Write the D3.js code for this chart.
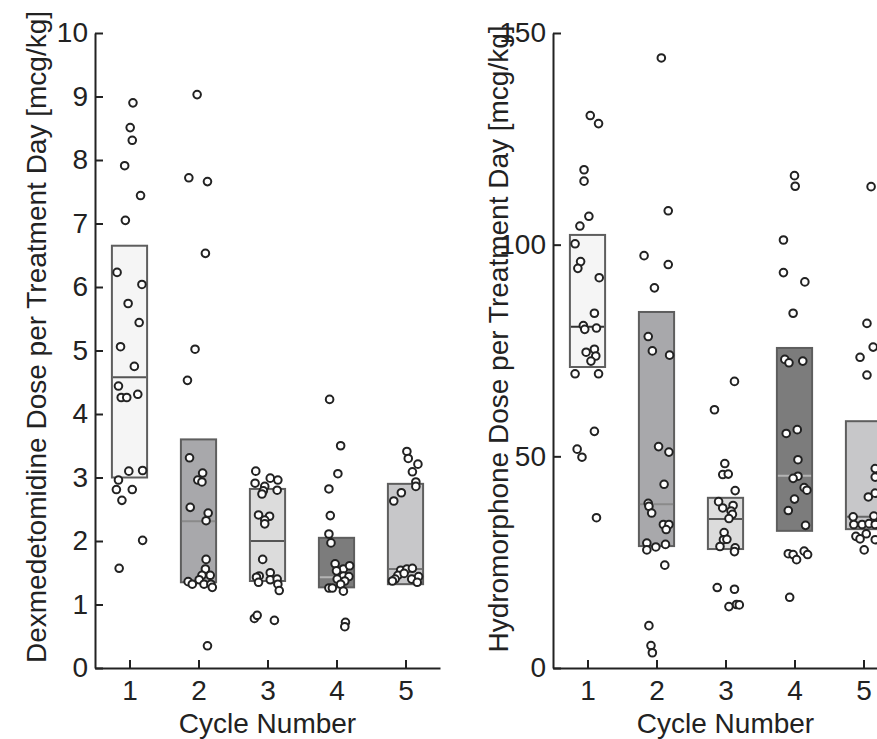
<!DOCTYPE html>
<html>
<head>
<meta charset="utf-8">
<script src="https://cdn.jsdelivr.net/npm/d3@7"></script>
<style>
  body { margin: 0; background: #fff; }
  svg { display: block; font-family: "Liberation Sans", Arial, Helvetica, sans-serif; }
  .axis text { font-size: 28px; fill: #222; }
  .axis path, .axis line { stroke: #222; stroke-width: 2; }
  .title { font-size: 28px; fill: #222; }
</style>
</head>
<body>
<div id="chart"></div>
<script>
// cycles and box colours
const cycles = [1, 2, 3, 4, 5];
const boxFill = ["#f5f5f5", "#a8a8ab", "#dcdcdc", "#7c7c7c", "#c7c7c9"];

// dexmedetomidine: box stats [q1, median, q3] per cycle
const dexBoxes = [[3.0, 4.58, 6.65], [1.35, 2.31, 3.6], [1.37, 2.0, 2.82], [1.27, 1.43, 2.05], [1.32, 1.56, 2.9]];
const dexMedianColor = ["#555", "#8a8a8a", "#555", "#b4b4b4", "#777"];
// dexmedetomidine: jittered points [x, dose]
const dexPoints = [
  [1.05, 8.90], [1.01, 8.51], [1.04, 8.31], [0.93, 7.91], [1.16, 7.44], [0.94, 7.05], [0.82, 6.23], [1.18, 6.04],
  [0.98, 5.74], [1.14, 5.44], [0.87, 5.06], [1.07, 4.75], [0.84, 4.44], [0.88, 4.26], [0.96, 4.26], [1.12, 4.31],
  [0.99, 3.10], [1.19, 3.11], [0.84, 2.96], [0.81, 2.81], [1.04, 2.81], [0.89, 2.64], [1.19, 2.01], [0.85, 1.57],
  [1.98, 9.03], [1.86, 7.72], [2.13, 7.66], [2.10, 6.53], [1.95, 5.02], [1.84, 4.53], [1.87, 3.31], [2.06, 3.07],
  [1.99, 2.96], [2.05, 2.93], [1.88, 2.53], [2.14, 2.44], [2.11, 2.32], [2.11, 1.71], [2.10, 1.56], [2.05, 1.46],
  [2.17, 1.46], [2.01, 1.39], [1.85, 1.36], [1.91, 1.32], [2.08, 1.32], [2.18, 1.32], [2.20, 1.27], [2.13, 0.35],
  [2.83, 3.10], [2.82, 2.91], [3.04, 2.99], [3.15, 2.96], [2.96, 2.86], [2.94, 2.79], [3.14, 2.80], [2.92, 2.74],
  [2.87, 2.41], [3.03, 2.39], [2.96, 2.33], [2.96, 2.27], [2.93, 1.71], [2.88, 1.45], [2.84, 1.43], [3.04, 1.50],
  [2.87, 1.35], [3.04, 1.39], [3.14, 1.40], [3.15, 1.32], [3.17, 1.22], [2.81, 0.78], [2.85, 0.83], [3.10, 0.75],
  [3.90, 4.23], [4.06, 3.50], [4.02, 3.06], [3.89, 2.82], [3.91, 2.40], [3.89, 2.11], [3.92, 1.97], [3.98, 1.64],
  [4.10, 1.56], [4.19, 1.61], [4.00, 1.53], [4.10, 1.45], [4.18, 1.44], [4.01, 1.40], [4.12, 1.37], [3.89, 1.26],
  [3.94, 1.26], [4.06, 1.32], [4.10, 1.21], [4.13, 0.72], [4.12, 0.65],
  [5.02, 3.41], [5.04, 3.30], [5.18, 3.21], [5.10, 3.09], [5.15, 2.93], [5.15, 2.86], [4.94, 2.76], [4.83, 2.63],
  [4.93, 1.54], [5.02, 1.56], [5.10, 1.57], [4.89, 1.46], [4.98, 1.49], [4.85, 1.40], [4.81, 1.37], [5.09, 1.40],
  [5.19, 1.44], [5.17, 1.35]
];
const dexTicks = [0, 1, 2, 3, 4, 5, 6, 7, 8, 9, 10];

// hydromorphone: box stats [q1, median, q3] per cycle
const hydBoxes = [[71.1, 80.6, 102.3], [28.8, 38.7, 84.1], [28.1, 35.2, 40.2], [32.4, 45.4, 75.6], [32.8, 35.7, 58.3]];
const hydMedianColor = ["#333", "#8a8a8a", "#555", "#b4b4b4", "#666"];
const hydPoints = [
  [1.04, 130.5], [1.16, 128.6], [0.95, 117.7], [0.95, 115.0], [1.02, 106.7], [0.89, 104.4], [0.82, 100.2], [0.90, 96.0],
  [0.86, 94.4], [1.17, 92.2], [1.10, 83.8], [0.94, 80.9], [0.96, 80.0], [1.13, 80.3], [0.98, 74.6], [1.10, 75.3],
  [1.12, 73.7], [1.05, 72.5], [0.82, 69.5], [1.16, 69.5], [1.10, 55.9], [0.85, 51.7], [0.92, 49.8], [1.13, 35.5],
  [2.07, 144.1], [2.17, 108.0], [1.82, 97.4], [2.17, 95.3], [1.97, 89.8], [1.88, 78.3], [1.94, 74.9], [2.19, 73.9],
  [2.03, 52.3], [2.18, 51.0], [2.11, 43.4], [1.88, 38.9], [1.89, 38.2], [1.93, 36.6], [2.10, 33.9], [2.18, 33.9],
  [2.14, 32.7], [1.86, 29.5], [1.86, 27.9], [1.99, 28.6], [2.13, 29.2], [2.12, 24.3], [1.89, 10.0], [1.92, 5.3], [1.94, 3.6],
  [3.13, 67.7], [2.84, 61.0], [2.99, 48.3], [2.96, 45.7], [3.04, 45.8], [3.14, 41.9], [2.90, 39.3], [3.11, 38.4],
  [3.08, 37.1], [3.10, 36.3], [2.96, 37.8], [3.05, 35.3], [2.98, 32.0], [2.97, 30.3], [3.02, 30.4], [2.92, 28.7],
  [3.14, 28.4], [3.13, 27.5], [2.88, 19.0], [3.13, 18.6], [3.05, 14.5], [3.16, 15.0], [3.20, 14.9],
  [4.00, 116.3], [4.01, 113.8], [3.84, 101.1], [3.84, 93.4], [4.15, 91.2], [3.98, 83.8], [3.86, 72.9], [3.92, 72.1],
  [4.12, 72.5], [3.88, 55.4], [4.04, 56.3], [4.05, 49.2], [4.05, 45.3], [3.98, 44.8], [4.14, 42.6], [4.18, 42.0],
  [4.00, 39.9], [3.91, 37.2], [4.16, 33.7], [3.91, 27.0], [3.98, 26.8], [4.03, 25.6], [4.14, 27.6], [4.19, 26.8], [3.93, 16.7],
  [5.11, 113.7], [5.05, 81.4], [5.14, 75.8], [4.95, 73.4], [5.05, 69.2], [5.17, 47.1], [5.17, 45.1], [5.07, 40.4],
  [5.17, 41.3], [5.15, 35.9], [4.85, 35.7], [4.86, 33.9], [4.98, 33.9], [5.08, 34.1], [5.17, 33.9], [4.89, 31.1],
  [5.04, 31.7], [4.95, 30.5], [5.17, 30.3], [5.01, 27.9]
];
const hydTicks = [0, 50, 100, 150];

const xLabel = "Cycle Number";
const dexLabel = "Dexmedetomidine Dose per Treatment Day [mcg/kg]";
const hydLabel = "Hydromorphone Dose per Treatment Day [mcg/kg]";

const W = 877, H = 739;
const svg = d3.select("#chart").append("svg").attr("width", W).attr("height", H);
svg.append("rect").attr("width", W).attr("height", H).attr("fill", "#fff");

function panel(opt) {
  const x = d3.scaleLinear().domain([0.5, 5.5]).range([opt.left, opt.left + 345]);
  const y = d3.scaleLinear().domain(opt.domain).range([668, 33]);
  const g = svg.append("g");
  const bw = x(1.255) - x(1);

  // boxes
  g.selectAll(".box").data(opt.boxes).join("rect")
    .attr("x", (d, i) => x(cycles[i]) - bw)
    .attr("width", bw * 2)
    .attr("y", d => y(d[2]))
    .attr("height", d => y(d[0]) - y(d[2]))
    .attr("fill", (d, i) => boxFill[i])
    .attr("stroke", "#5e5e5e")
    .attr("stroke-width", 2);

  // medians
  g.selectAll(".med").data(opt.boxes).join("line")
    .attr("x1", (d, i) => x(cycles[i]) - bw + 1)
    .attr("x2", (d, i) => x(cycles[i]) + bw - 1)
    .attr("y1", d => y(d[1]))
    .attr("y2", d => y(d[1]))
    .attr("stroke", (d, i) => opt.medColor[i])
    .attr("stroke-width", 2);

  // points
  g.selectAll(".pt").data(opt.points).join("circle")
    .attr("cx", d => x(d[0]))
    .attr("cy", d => y(d[1]))
    .attr("r", 3.8)
    .attr("fill", "#fff")
    .attr("stroke", "#222")
    .attr("stroke-width", 2);

  // axes
  g.append("g").attr("class", "axis")
    .attr("transform", `translate(${opt.left},0)`)
    .call(d3.axisLeft(y).tickValues(opt.ticks).tickSize(-8).tickSizeOuter(0).tickPadding(7));

  g.append("g").attr("class", "axis")
    .attr("transform", "translate(0,668)")
    .call(d3.axisBottom(x).tickValues(cycles).tickFormat(d3.format("d")).tickSize(-8).tickSizeOuter(0).tickPadding(12));

  svg.selectAll(".axis").attr("font-size", null).attr("font-family", null);

  g.append("text").attr("class", "title")
    .attr("x", x(3)).attr("y", 733)
    .attr("text-anchor", "middle")
    .text(xLabel);

  g.append("text").attr("class", "title")
    .attr("transform", `translate(${opt.labelX},${opt.labelY}) rotate(-90)`)
    .attr("text-anchor", "middle")
    .text(opt.label);
}

panel({left: 95, domain: [0, 10], boxes: dexBoxes, medColor: dexMedianColor, points: dexPoints, ticks: dexTicks, label: dexLabel, labelX: 46, labelY: 337});
panel({left: 553, domain: [0, 150], boxes: hydBoxes, medColor: hydMedianColor, points: hydPoints, ticks: hydTicks, label: hydLabel, labelX: 508, labelY: 339});
</script>
</body>
</html>
